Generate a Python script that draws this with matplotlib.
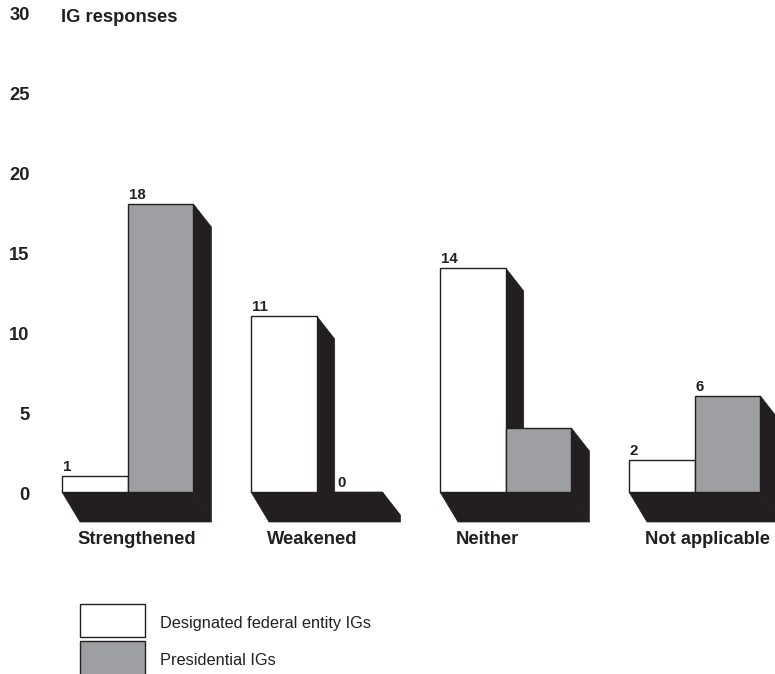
import matplotlib
matplotlib.use("Agg")
import matplotlib.pyplot as plt
from matplotlib.patches import Polygon, Rectangle

# Data
categories = ["Strengthened", "Weakened", "Neither", "Not applicable"]
designated = [1, 11, 14, 2]
presidential = [18, 0, 4, 6]
series_names = ["Designated federal entity IGs", "Presidential IGs"]
yticks = [0, 5, 10, 15, 20, 25, 30]
title = "IG responses"

# Style
INK = "#231f20"
GRAY = "#9d9fa2"
plt.rcParams["font.family"] = ["Liberation Sans", "DejaVu Sans"]

W, H = 775, 674
ZERO_PX, PX_PER_UNIT = 492, 16.0


def vy(py):
    """Convert a pixel row into value units on the y scale."""
    return (ZERO_PX - py) / PX_PER_UNIT


fig = plt.figure(figsize=(W / 100, H / 100), dpi=100)
ax = fig.add_axes([0, 0, 1, 1])
ax.set_xlim(0, W)
ax.set_ylim(vy(H), vy(0))
ax.axis("off")

# Layout of bars (x in pixels, heights in value units)
first_left = 62
group_step = 189
bar_w = 65.7
depth_dx = 18
side_dy = 23 / PX_PER_UNIT
floor_dy = 30 / PX_PER_UNIT
label_dx = [9, -4, -18, 13]

for i, cat in enumerate(categories):
    x0 = first_left + i * group_step
    x1 = x0 + bar_w
    x2 = x1 + bar_w
    # floor shadow under both bars
    ax.add_patch(Polygon([(x0, 0), (x2, 0), (x2 + depth_dx, -floor_dy),
                          (x0 + depth_dx, -floor_dy)],
                         closed=True, facecolor=INK, edgecolor=INK, lw=0.5, zorder=1))
    for xl, val, fc in ((x0, designated[i], "white"), (x1, presidential[i], GRAY)):
        xr = xl + bar_w
        # side shadow of the bar
        ax.add_patch(Polygon([(xr, val), (xr + depth_dx, val - side_dy),
                              (xr + depth_dx, -floor_dy), (xr, 0)],
                             closed=True, facecolor=INK, edgecolor=INK, lw=0.5, zorder=2))
        if val > 0:
            ax.add_patch(Rectangle((xl, 0), bar_w, val, facecolor=fc,
                                   edgecolor=INK, lw=1.0, zorder=3))
            label_x = xl + 1
        else:
            # an empty bar is labelled beside the neighbouring shadow
            label_x = xl + depth_dx + 3
        ax.text(label_x, val + 5 / PX_PER_UNIT, str(val), ha="left", va="baseline",
                fontsize=10.8, fontweight="bold", color=INK, zorder=4)
    # category label
    ax.text(x1 + label_dx[i], vy(544), cat, ha="center", va="baseline",
            fontsize=13.2, fontweight="bold", color=INK)

# y tick labels
for t in yticks:
    ax.text(29.5, t - 8 / PX_PER_UNIT, str(t), ha="right", va="baseline",
            fontsize=13.2, fontweight="bold", color=INK)

# title
ax.text(61, vy(21.5), title, ha="left", va="baseline",
        fontsize=13.2, fontweight="bold", color=INK)

# legend
legend_rows = [(603.5, 636.5, "white", 628), (641, 677, GRAY, 665)]
for (top, bot, fc, base), name in zip(legend_rows, series_names):
    ax.add_patch(Rectangle((80, vy(bot)), 64.5, vy(top) - vy(bot),
                           facecolor=fc, edgecolor=INK, lw=1.0, clip_on=False))
    ax.text(160, vy(base), name, ha="left", va="baseline",
            fontsize=11.8, color=INK)

fig.savefig("out.png", dpi=100)
